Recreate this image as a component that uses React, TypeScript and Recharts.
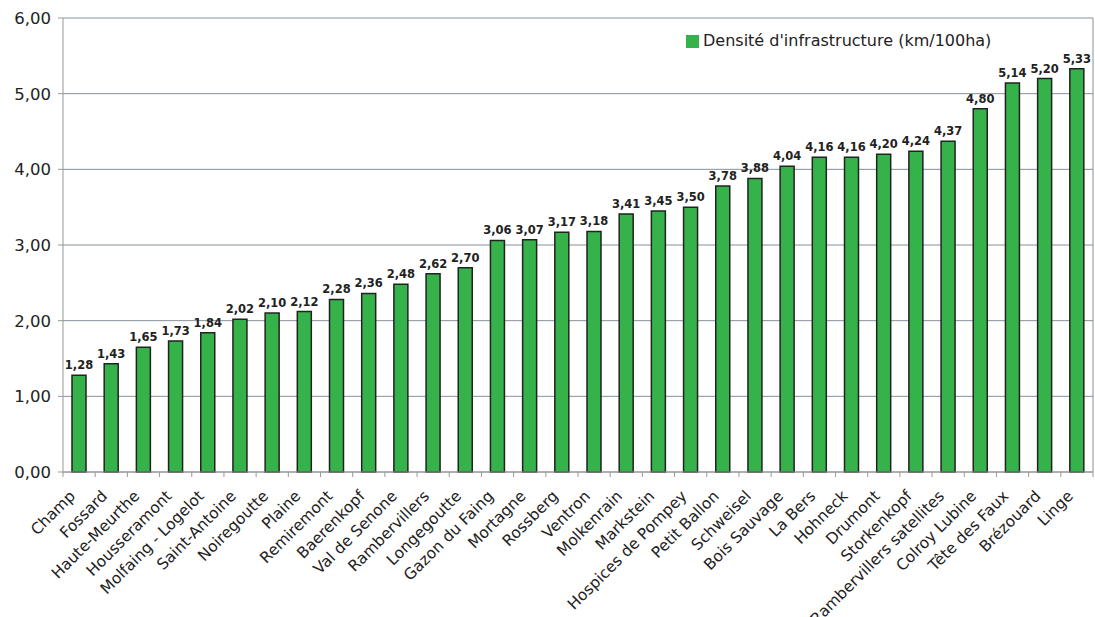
import React from 'react'
import { BarChart, Bar, XAxis, YAxis, CartesianGrid, Legend, LabelList } from 'recharts'

const sites = [
  'Champ', 'Fossard', 'Haute-Meurthe', 'Housseramont', 'Molfaing - Logelot', 'Saint-Antoine',
  'Noiregoutte', 'Plaine', 'Remiremont', 'Baerenkopf', 'Val de Senone', 'Rambervillers',
  'Longegoutte', 'Gazon du Faing', 'Mortagne', 'Rossberg', 'Ventron', 'Molkenrain',
  'Markstein', 'Hospices de Pompey', 'Petit Ballon', 'Schweisel', 'Bois Sauvage', 'La Bers',
  'Hohneck', 'Drumont', 'Storkenkopf', 'Rambervillers satellites', 'Colroy Lubine',
  'Tête des Faux', 'Brézouard', 'Linge',
]

const densite = [
  1.28, 1.43, 1.65, 1.73, 1.84, 2.02, 2.1, 2.12, 2.28, 2.36, 2.48, 2.62, 2.7, 3.06, 3.07,
  3.17, 3.18, 3.41, 3.45, 3.5, 3.78, 3.88, 4.04, 4.16, 4.16, 4.2, 4.24, 4.37, 4.8, 5.14,
  5.2, 5.33,
]

const yTicks = [0, 1, 2, 3, 4, 5, 6]

const data = sites.map((name, i) => ({ name, value: densite[i] }))

const W = 1095
const H = 617
const LEFT = 63
const RIGHT = 1093
const band = (RIGHT - LEFT) / sites.length

const fmt = (v: number) => v.toFixed(2).replace('.', ',')

function SiteTick(props: any) {
  const { x, y, payload, index } = props
  const left = x - band / 2
  const tx = x - 3
  const ty = y + 17
  return (
    <g>
      <line x1={left} y1={y - 8} x2={left} y2={y - 3} stroke="#999" />
      {index === sites.length - 1 && (
        <line x1={x + band / 2} y1={y - 8} x2={x + band / 2} y2={y - 3} stroke="#999" />
      )}
      <text
        x={tx}
        y={ty}
        textAnchor="end"
        fontSize={15.5}
        fill="#222"
        fontFamily="DejaVu Sans"
        transform={`rotate(-45 ${tx} ${ty})`}
      >
        {payload.value}
      </text>
    </g>
  )
}

export default function App() {
  return (
    <div style={{ position: 'absolute', left: 0, top: 0, background: '#fff' }}>
      <BarChart
        width={W}
        height={H}
        data={data}
        margin={{ top: 18, right: W - RIGHT, left: 0, bottom: 0 }}
        barSize={14}
      >
        <CartesianGrid
          stroke="#86919b"
          vertical
          verticalPoints={[RIGHT]}
        />
        <XAxis
          dataKey="name"
          interval={0}
          height={145}
          tickLine={false}
          axisLine={{ stroke: '#999' }}
          tick={<SiteTick />}
        />
        <YAxis
          width={LEFT}
          domain={[0, 6]}
          ticks={yTicks}
          tickFormatter={fmt}
          tickSize={5}
          tickMargin={7}
          tickLine={{ stroke: '#999' }}
          axisLine={{ stroke: '#999' }}
          tick={{ fontSize: 16.5, fill: '#222', fontFamily: 'DejaVu Sans' }}
        />
        <Legend
          layout="horizontal"
          verticalAlign="middle"
          align="center"
          iconType="square"
          iconSize={13}
          wrapperStyle={{
            top: 31,
            left: 686,
            width: 'auto',
            fontFamily: 'DejaVu Sans',
            fontSize: 16,
          }}
          formatter={(v) => <span style={{ color: '#222' }}>{v}</span>}
        />
        <Bar
          dataKey="value"
          name="Densité d'infrastructure (km/100ha)"
          fill="#35b24a"
          stroke="#222"
          strokeWidth={1.5}
          isAnimationActive={false}
        >
          <LabelList
            dataKey="value"
            position="top"
            offset={6}
            formatter={(v: any) => fmt(Number(v))}
            style={{ fontSize: 11.5, fontWeight: 'bold', fill: '#222', fontFamily: 'DejaVu Sans' }}
          />
        </Bar>
      </BarChart>
    </div>
  )
}
